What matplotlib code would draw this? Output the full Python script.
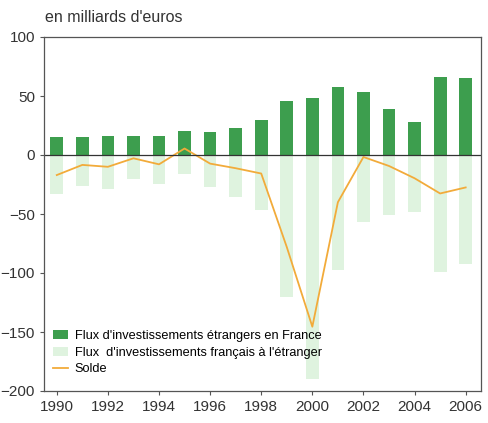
import numpy as np
import matplotlib
matplotlib.use("Agg")
import matplotlib.pyplot as plt

plt.rcParams['font.family'] = ['Liberation Sans Narrow', 'Liberation Sans', 'DejaVu Sans']

years = list(range(1990, 2007))
flux_entrants = [15, 15, 16.5, 16.5, 15.7, 20, 19.4, 22.8, 30, 45.5, 48.4, 57.8, 53.6, 39.3, 28.2, 66.4, 65.5]
flux_sortants = [-33, -26, -29, -20.5, -24.7, -16.3, -27.5, -36, -47, -120, -190, -97.6, -57, -51, -48.6, -99, -92]
solde = [-17, -8.4, -10, -2.8, -7.9, 5.5, -7.3, -11.2, -15.7, -78, -145.5, -40, -1.7, -9.3, -19.7, -32.6, -27.5]

fig = plt.figure(figsize=(4.88, 4.23), dpi=100)
ax = fig.add_axes([44/488, 1 - 391/423, (481-44)/488, (391-37)/423])

b_sort = ax.bar(years, flux_sortants, width=0.5, color='#dff3df', edgecolor='none')
b_entr = ax.bar(years, flux_entrants, width=0.5, color='#3d9e4e', edgecolor='none')
l_solde, = ax.plot(years, solde, color='#f2ab3a', lw=1.3)
ax.axhline(0, color='#333333', lw=0.9)

ax.set_xlim(1989.5, 2006.6)
ax.set_ylim(-200, 100)
ax.set_yticks([-200, -150, -100, -50, 0, 50, 100])
ax.set_xticks(range(1990, 2007, 2))
ax.tick_params(labelsize=11, length=3, color='#555555', labelcolor='#333333')
for s in ax.spines.values():
    s.set_color('#555555')
    s.set_linewidth(0.9)

ax.legend([b_entr, b_sort, l_solde],
          ["Flux d'investissements étrangers en France",
           "Flux  d'investissements français à l'étranger",
           "Solde"],
          loc='lower left', bbox_to_anchor=(0.0, 0.02), frameon=False, fontsize=9.2,
          handlelength=1.2, handletextpad=0.5, labelspacing=0.35, borderaxespad=0.3)

fig.text(45/488, 1 - 17/423, "en milliards d'euros", fontsize=11.5, color='#333333',
         va='center', ha='left', family=['Liberation Sans', 'DejaVu Sans'])

fig.savefig('out.png', dpi=100)
